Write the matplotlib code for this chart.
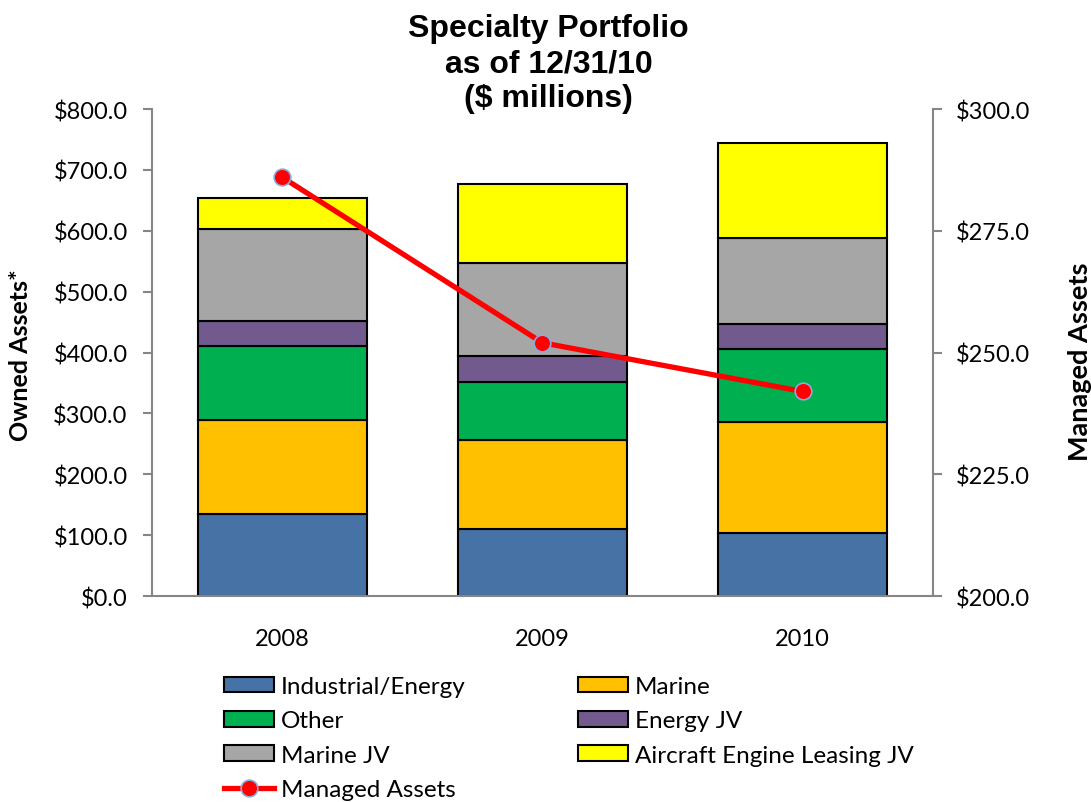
import numpy as np
import matplotlib
matplotlib.use("Agg")
import matplotlib.pyplot as plt
from matplotlib.lines import Line2D

# dane ($ mln)
years = ["2008", "2009", "2010"]
industrial = [135.0, 110.5, 103.5]
marine = [154.5, 146.0, 182.0]
other = [121.5, 95.5, 121.0]
energy_jv = [40.0, 41.5, 41.0]
marine_jv = [151.5, 154.0, 141.0]
aircraft_jv = [51.0, 129.0, 156.0]
managed = [286.0, 252.0, 242.0]

series = [
    ("Industrial/Energy", industrial, "#4672A6"),
    ("Marine", marine, "#FFC000"),
    ("Other", other, "#00B050"),
    ("Energy JV", energy_jv, "#725A8E"),
    ("Marine JV", marine_jv, "#A6A6A6"),
    ("Aircraft Engine Leasing JV", aircraft_jv, "#FFFF00"),
]

plt.rcParams["font.family"] = ["Lato", "DejaVu Sans"]
GRAY = "#868686"

fig = plt.figure(figsize=(10.91, 8.03), dpi=100)
ax = fig.add_axes([0.1393, 0.2565, 0.7157, 0.6065])

x = np.arange(len(years))
bottom = np.zeros(len(years))
handles = {}
for name, vals, color in series:
    bars = ax.bar(x, vals, 0.65, bottom=bottom, color=color,
                  edgecolor="black", linewidth=1.5, label=name, zorder=2)
    handles[name] = bars
    bottom += np.array(vals)

ax.set_xlim(-0.5, 2.5)
ax.set_ylim(0, 800)
ax.set_yticks(np.arange(0, 801, 100))
ax.set_yticklabels([f"${v:.1f}" for v in np.arange(0, 801, 100)])
ax.set_xticks(x)
ax.set_xticklabels(years)
ax.tick_params(axis="x", length=0, labelsize=17, pad=23)
ax.tick_params(axis="y", length=6.5, width=1.5, color=GRAY, labelsize=17, pad=11)
for s in ["top", "right"]:
    ax.spines[s].set_visible(False)
for s in ["left", "bottom"]:
    ax.spines[s].set_color(GRAY)
    ax.spines[s].set_linewidth(1.5)

ax2 = ax.twinx()
ax2.plot(x, managed, color="#FF0000", linewidth=3.8, marker="o",
         markersize=12, markerfacecolor="#FF0000",
         markeredgecolor="#8EA9DB", markeredgewidth=1.2, zorder=5)
ax2.set_ylim(200, 300)
ax2.set_yticks(np.arange(200, 301, 25))
ax2.set_yticklabels([f"${v:.1f}" for v in np.arange(200, 301, 25)])
ax2.tick_params(axis="y", length=6.5, width=1.5, color=GRAY, labelsize=17, pad=10)
for s in ["top", "left", "bottom"]:
    ax2.spines[s].set_visible(False)
ax2.spines["right"].set_color(GRAY)
ax2.spines["right"].set_linewidth(1.5)

# opisy osi
fig.text(21 / 1091, 1 - 355 / 803, "Owned Assets*", rotation=90,
         ha="center", va="center", fontsize=18, fontweight="bold")
fig.text(1080 / 1091, 1 - 362 / 803, "Managed Assets", rotation=90,
         ha="center", va="center", fontsize=19.5, fontweight="bold")

fig.text(0.503, 0.982, "Specialty Portfolio\nas of 12/31/10\n($ millions)",
         ha="center", va="top", fontsize=23, fontweight="bold",
         family="Liberation Sans", linespacing=1.2)

line_handle = Line2D([], [], color="#FF0000", linewidth=3.8, marker="o",
                     markersize=12, markerfacecolor="#FF0000",
                     markeredgecolor="#8EA9DB", markeredgewidth=1.2)
order = ["Industrial/Energy", "Other", "Marine JV", None,
         "Marine", "Energy JV", "Aircraft Engine Leasing JV"]
leg_h, leg_l = [], []
for name in order:
    if name is None:
        leg_h.append(line_handle)
        leg_l.append("Managed Assets")
    else:
        leg_h.append(handles[name])
        leg_l.append(name)

fig.legend(leg_h, leg_l, ncol=2, loc="upper left",
           bbox_to_anchor=(224 / 1091, 1 - 677 / 803), frameon=False,
           fontsize=17.5, handlelength=2.05, handleheight=0.6,
           handletextpad=0.3, columnspacing=4.6, labelspacing=0.55,
           borderpad=0, borderaxespad=0)

plt.savefig("out.png", dpi=100)
